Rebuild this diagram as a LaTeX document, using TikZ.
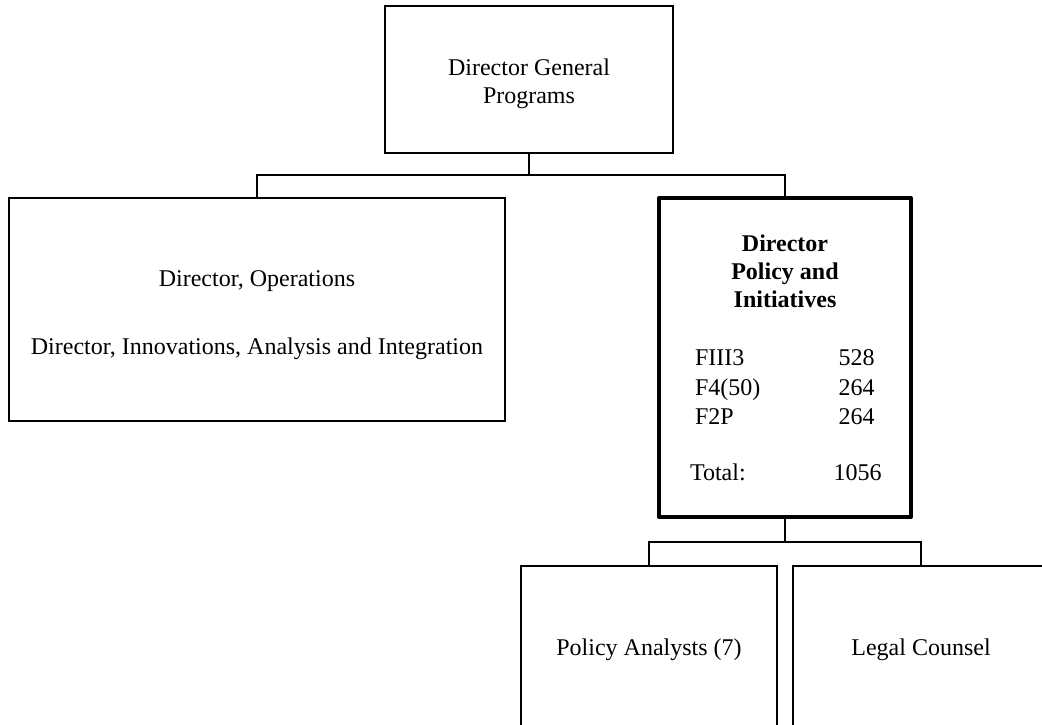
\documentclass[tikz,border=0pt]{standalone}
\usepackage{fontspec}
\setmainfont{Liberation Serif}
\begin{document}
\begin{tikzpicture}[x=1pt,y=-1pt,
  box/.style={draw, line width=1.4pt, inner sep=0pt, outer sep=0pt, fill=white},
  keybox/.style={box, line width=4.4pt, line join=round},
  link/.style={draw, line width=1.4pt},
  txt/.style={inner sep=0pt, outer sep=0pt, anchor=base, font=\fontsize{24}{28}\selectfont},
  btxt/.style={txt, font=\fontsize{24}{28}\selectfont\bfseries},
  ltxt/.style={txt, anchor=base west}]
\useasboundingbox (0,0) rectangle (1042,725);
\clip (0,0) rectangle (1042,725);

% boxes
\node[box, minimum width=288pt, minimum height=147pt] (dg) at (529,79.5) {};
\node[box, minimum width=496pt, minimum height=223pt] (ops) at (257,309.5) {};
\node[keybox, minimum width=252pt, minimum height=318.5pt] (pol) at (785,357.5) {};
\node[box, minimum width=256pt, minimum height=200pt] (pa) at (649,666) {};
\node[box, minimum width=256pt, minimum height=200pt] (lc) at (921,666) {};

% connectors
\coordinate (bus1) at (529,175);
\coordinate (bus2) at (785,542);
\draw[link] (dg.south) -- (bus1);
\draw[link] (ops.north) |- (bus1) -| (pol.north);
\draw[link] (pol.south) -- (bus2);
\draw[link] (pa.north) |- (bus2) -| (lc.north);

% texts
\node[txt] (dg1) at (529,76) {Director General};
\node[txt] (dg2) at (529,103.5) {Programs};

\node[txt] (op1) at (257,286) {Director, Operations};
\node[txt] (op2) at (257,354.5) {Director, Innovations, Analysis and Integration};

\node[btxt] (po1) at (785,251.7) {Director};
\node[btxt] (po2) at (785,279.4) {Policy and};
\node[btxt] (po3) at (785,307.2) {Initiatives};

\node[ltxt] (r1) at (695,365.7) {FIII3};
\node[ltxt] (r2) at (695,395) {F4(50)};
\node[ltxt] (r3) at (695,424) {F2P};
\node[ltxt] (r4) at (690,480) {Total:};
\node[txt] (v1) at (856.5,365.7) {528};
\node[txt] (v2) at (856.5,395) {264};
\node[txt] (v3) at (856.5,424) {264};
\node[txt] (v4) at (857.5,480) {1056};

\node[txt] (pa1) at (649,655) {Policy Analysts (7)};
\node[txt] (lc1) at (921,655) {Legal Counsel};
\end{tikzpicture}
\end{document}
